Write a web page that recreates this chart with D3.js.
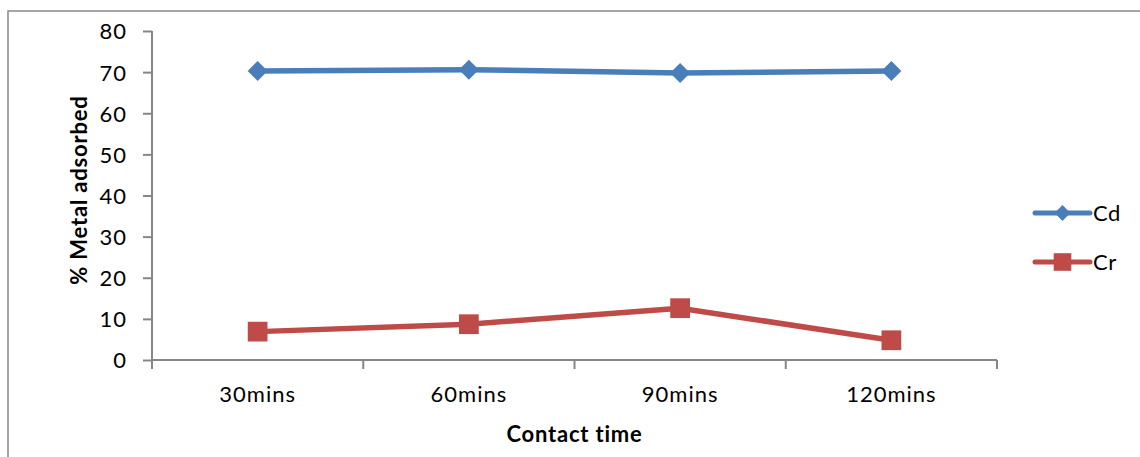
<!DOCTYPE html>
<html>
<head>
<meta charset="utf-8">
<script src="https://cdn.jsdelivr.net/npm/d3@7"></script>
<style>
  body { margin: 0; background: #fff; }
  text { font-family: Lato, "Open Sans", sans-serif; fill: #000; }
</style>
</head>
<body>
<div id="chart"></div>
<script>
var categories = ["30mins", "60mins", "90mins", "120mins"],
    cdValues = [70.3, 70.6, 69.8, 70.3],
    crValues = [6.9, 8.7, 12.6, 4.8],
    yTicks = [0, 10, 20, 30, 40, 50, 60, 70, 80];

var width = 1140,
    height = 457,
    margin = {"top": 31, "right": 143, "bottom": 97, "left": 152};

var series = [
    {name: "Cd", values: cdValues, color: "#4a7ebb", shape: d3.symbolSquare, rotate: 45, size: 200, legendSize: 125},
    {name: "Cr", values: crValues, color: "#be4b48", shape: d3.symbolSquare, rotate: 0, size: 390, legendSize: 310}
];

// svg container
var svg = d3.select("#chart")
    .append("svg")
    .attr("width", width)
    .attr("height", height);

// outer chart border (runs off right and bottom)
svg.append("rect")
    .attr("x", 8)
    .attr("y", 11)
    .attr("width", width + 20)
    .attr("height", height + 20)
    .attr("fill", "none")
    .attr("stroke", "#898989")
    .attr("stroke-width", 1.5);

var x = d3.scaleBand()
    .domain(categories)
    .range([margin.left, width - margin.right]);

var y = d3.scaleLinear()
    .domain([0, 80])
    .range([height - margin.bottom, margin.top]);

// y axis
var yAxis = svg.append("g")
    .attr("transform", "translate(" + margin.left + ",0)")
    .call(d3.axisLeft(y).tickValues(yTicks).tickSize(9).tickPadding(16));

// x axis, ticks sit on the band edges
var xAxis = svg.append("g")
    .attr("transform", "translate(0," + y(0) + ")")
    .call(d3.axisBottom(x).tickSize(0).tickPadding(26));

xAxis.selectAll(".edge")
    .data(d3.range(categories.length + 1))
    .enter().append("line")
    .attr("class", "edge")
    .attr("x1", function(i) { return margin.left + i * x.step(); })
    .attr("x2", function(i) { return margin.left + i * x.step(); })
    .attr("y1", 0)
    .attr("y2", 9);

[yAxis, xAxis].forEach(function(g) {
    g.selectAll("path, line").attr("stroke", "#868686").attr("stroke-width", 2);
    g.selectAll("path").attr("d", g === yAxis
        ? "M0," + y(80) + "V" + y(0)
        : "M" + margin.left + ",0H" + (width - margin.right));
    g.selectAll("text")
        .style("font-family", "Lato, 'Open Sans', sans-serif")
        .style("font-size", "22px")
        .style("letter-spacing", "1px")
        .attr("fill", "#000");
});
yAxis.selectAll("text").attr("dy", "0.36em");

// lines and markers
var line = d3.line()
    .x(function(d, i) { return x(categories[i]) + x.bandwidth() / 2; })
    .y(function(d) { return y(d); });

series.forEach(function(s) {
    svg.append("path")
        .attr("d", line(s.values))
        .attr("fill", "none")
        .attr("stroke", s.color)
        .attr("stroke-width", 5.5)
        .attr("stroke-linejoin", "round");

    svg.selectAll(".m-" + s.name)
        .data(s.values)
        .enter().append("path")
        .attr("d", d3.symbol().type(s.shape).size(s.size))
        .attr("transform", function(d, i) {
            return "translate(" + (x(categories[i]) + x.bandwidth() / 2) + "," + y(d) + ") rotate(" + s.rotate + ")";
        })
        .attr("fill", s.color);
});

// axis titles
svg.append("text")
    .attr("x", (margin.left + width - margin.right) / 2)
    .attr("y", 442)
    .attr("text-anchor", "middle")
    .style("font-size", "22px")
    .style("font-weight", "bold")
    .style("letter-spacing", "0.8px")
    .text("Contact time");

svg.append("text")
    .attr("transform", "translate(87,190) rotate(-90)")
    .attr("text-anchor", "middle")
    .style("font-size", "22px")
    .style("font-weight", "bold")
    .style("letter-spacing", "0.8px")
    .text("% Metal adsorbed");

// legend
var legend = svg.selectAll(".legend")
    .data(series)
    .enter().append("g")
    .attr("transform", function(d, i) { return "translate(1035," + (213 + i * 49) + ")"; });

legend.append("line")
    .attr("x1", 0).attr("x2", 55)
    .attr("stroke", function(d) { return d.color; })
    .attr("stroke-width", 5)
    .attr("stroke-linecap", "round");

legend.append("path")
    .attr("d", function(d) { return d3.symbol().type(d.shape).size(d.legendSize)(); })
    .attr("transform", function(d) { return "translate(27.5,0) rotate(" + d.rotate + ")"; })
    .attr("fill", function(d) { return d.color; });

legend.append("text")
    .attr("x", 58)
    .attr("dy", "0.36em")
    .style("font-size", "22px")
    .style("letter-spacing", "0.5px")
    .text(function(d) { return d.name; });
</script>
</body>
</html>
